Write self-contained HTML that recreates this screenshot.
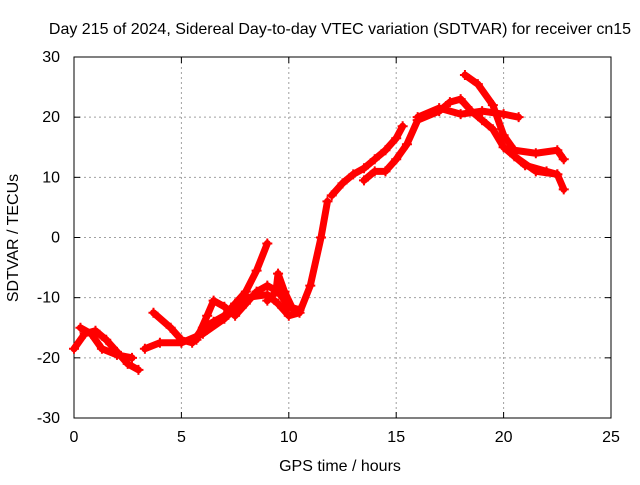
<!DOCTYPE html>
<html><head><meta charset="utf-8"><style>
body{margin:0;background:#fff;font-family:"Liberation Sans",sans-serif}
svg text{font-family:"Liberation Sans",sans-serif;font-size:16px;fill:#000}
</style></head><body>
<svg width="640" height="480">
<rect width="640" height="480" fill="#fff"/>
<text x="340" y="34" text-anchor="middle">Day 215 of 2024, Sidereal Day-to-day VTEC variation (SDTVAR) for receiver cn15</text>
<g id="grid"></g><g id="axes"></g><g id="series"></g>
<text x="340" y="471" text-anchor="middle">GPS time / hours</text>
<text transform="translate(18,238) rotate(-90)" text-anchor="middle">SDTVAR / TECUs</text>
</svg>
<script>
const xTicks=[0,5,10,15,20,25];
const yTicks=[-30,-20,-10,0,10,20,30];
const seriesA=[[0,-18.5],[0.5,-16],[1,-15.5],[1.5,-17],[2,-19],[2.5,-21],[3,-22]];
const seriesB=[[0.3,-15],[0.8,-16],[1.3,-18.5],[2,-19.5],[2.7,-20]];
const seriesC=[[3.3,-18.5],[4,-17.5],[5,-17.5],[6,-16],[7,-13.5],[8,-10],[9,-9.5],[9.5,-11],[10,-13],[10.5,-12.5],[11,-8],[11.5,0],[11.8,6]];
const seriesD=[[3.7,-12.5],[4.5,-15],[5,-17],[5.5,-17.5],[6,-15],[6.5,-14],[7,-13],[7.5,-11],[8,-9],[8.5,-5.5],[9,-1]];
const seriesE=[[5.7,-17],[6.2,-13],[6.5,-10.5],[7,-11.5],[7.5,-13],[8,-11],[8.5,-9],[9,-8],[9.5,-9],[10,-11.5],[10.5,-12]];
const seriesF=[[9,-10.5],[9.4,-9],[9.5,-6],[9.8,-9],[10.2,-12]];
const seriesG=[[12,7],[12.5,9],[13,10.5],[13.5,11.5],[14,13],[14.5,14.5],[15,16.5],[15.3,18.5]];
const seriesH=[[13.5,9.5],[14,11],[14.5,11],[15,13],[15.5,15.5],[16,19.5],[17,21],[17.5,22.5],[18,23],[18.5,21],[19,19.5],[19.5,18],[20,15],[21,12],[22,11],[22.5,10.5]];
const seriesI=[[16,20],[17,21.5],[18,20.5],[19,21],[20,20.5],[20.7,20]];
const seriesJ=[[18.2,27],[18.8,25.5],[19.5,22],[20,17],[20.5,14.5],[21.5,14],[22.5,14.5],[22.8,13]];
const seriesK=[[20.5,13.5],[21.5,11],[22.5,10.5],[22.8,8]];
const allSeries=[seriesA,seriesB,seriesC,seriesD,seriesE,seriesF,seriesG,seriesH,seriesI,seriesJ,seriesK];
const L=74,R=611,T=57,B=418;
const xs=t=>L+(t-0)/25*(R-L);
const ys=v=>B-(v+30)/60*(B-T);
const NS="http://www.w3.org/2000/svg";
function mk(tag,attrs,parent){const e=document.createElementNS(NS,tag);for(const k in attrs)e.setAttribute(k,attrs[k]);parent.appendChild(e);return e;}
const g=document.getElementById('grid'),ax=document.getElementById('axes'),sg=document.getElementById('series');
xTicks.forEach(t=>{
 if(t>0&&t<25){const l=mk('line',{x1:xs(t),x2:xs(t),y1:T,y2:B,stroke:'#a0a0a0','stroke-dasharray':'2,3'},g);
 
 }
 const tx=mk('text',{x:xs(t),y:B+24,'text-anchor':'middle'},ax);tx.textContent=t;
 
 
 mk('line',{x1:xs(t),x2:xs(t),y1:B,y2:B-6,stroke:'#000'},ax);
 mk('line',{x1:xs(t),x2:xs(t),y1:T,y2:T+6,stroke:'#000'},ax);
});
yTicks.forEach(v=>{
 if(v>-30&&v<30){const l=mk('line',{x1:L,x2:R,y1:ys(v),y2:ys(v),stroke:'#a0a0a0','stroke-dasharray':'2,3'},g);
 
 }
 const tx=mk('text',{x:L-14,y:ys(v)+5,'text-anchor':'end'},ax);tx.textContent=v;
 
 
 mk('line',{x1:L,x2:L+6,y1:ys(v),y2:ys(v),stroke:'#000'},ax);
 mk('line',{x1:R,x2:R-6,y1:ys(v),y2:ys(v),stroke:'#000'},ax);
});
const frame=mk('rect',{x:L,y:T,width:R-L,height:B-T,fill:'none',stroke:'#000'},ax);


allSeries.forEach((s,i)=>{
 const p=mk('polyline',{points:s.map(d=>xs(d[0])+','+ys(d[1])).join(' '),fill:'none',stroke:'#ff0000','stroke-width':7,'stroke-linejoin':'round','stroke-linecap':'round'},sg);
 
 
 s.forEach(d=>{
  const m=mk('path',{d:`M${xs(d[0])-5},${ys(d[1])}h10M${xs(d[0])},${ys(d[1])-5}v10`,stroke:'#ff0000','stroke-width':2},sg);
  
  
 });
});
</script>
</body></html>
